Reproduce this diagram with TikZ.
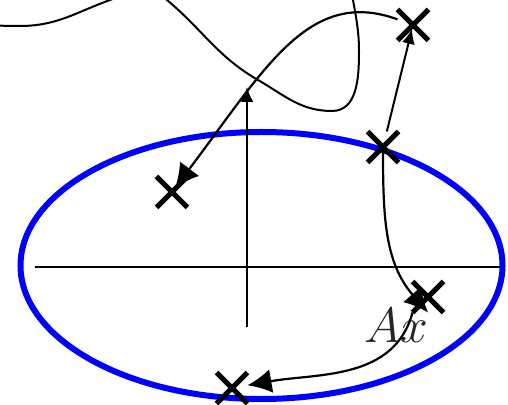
\documentclass[tikz,border=0pt]{standalone}
\usetikzlibrary{arrows.meta, shapes.misc}

\begin{document}
\begin{tikzpicture}[x=1pt, y=1pt,
        eig/.style={draw, cross out, line width=5pt, minimum size=26pt, inner sep=0pt},
        axisline/.style={line width=2.2pt},
        curve/.style={line width=2pt},
        bigarr/.style={-{Latex[length=24pt, width=24pt]}, line width=2.2pt},
        smallarr/.style={-{Latex[length=15pt, width=13pt]}, line width=2pt}
    ]
    \useasboundingbox (-247,-137) rectangle (261,267);
    \clip (-247,-137) rectangle (261,267);

    % === Level set (blue ellipse) ===
    \draw[blue, line width=6pt] (14.5,1.5) ellipse [x radius=241, y radius=133.5];

    % === Axes ===
    \draw[axisline] (-212,0) -- (253,0);
    \draw[axisline, smallarr] (0,-60) -- (0,180);

    % === Free curve (runs out of the frame at the top) ===
    \draw[curve] (-262,243) to[out=-8, in=180] (-227,241)
        to[out=0, in=200] (-137,267) to[out=20, in=180] (-110,277)
        to[out=0, in=140] (-80,267) to[out=-40, in=150] (11,187)
        to[out=-30, in=180] (85,156) to[out=0, in=-90] (112,215)
        to[out=90, in=-80] (106,267) to[out=100, in=-80] (102,290);

    % === Eigenvalues ===
    \node[eig] (c1) at (-75,75) {};
    \node[eig] (c2) at (136,120) {};
    \node[eig] (c3) at (181,-30) {};
    \node[eig] (c4) at (166,242) {};
    \node[eig] (c5) at (-15,-121) {};

    \node[anchor=base west, text=black!85, font=\Huge, scale=2]
        (lbl) at (110,-75) {$Ax$};

    % === Moves between eigenvalues ===
    \draw[smallarr, shorten >=4pt] (c2) -- (c4.center);
    \draw[bigarr, shorten >=5pt]
        (c4) to[out=160, in=53, out looseness=0.85, in looseness=1.4] (c1.center);
    \draw[bigarr] (c2.center) to[out=-90, in=131] (c3.south);
    \draw[bigarr] (c3.south west) to[out=-105, in=10] (c5);

\end{tikzpicture}
\end{document}
